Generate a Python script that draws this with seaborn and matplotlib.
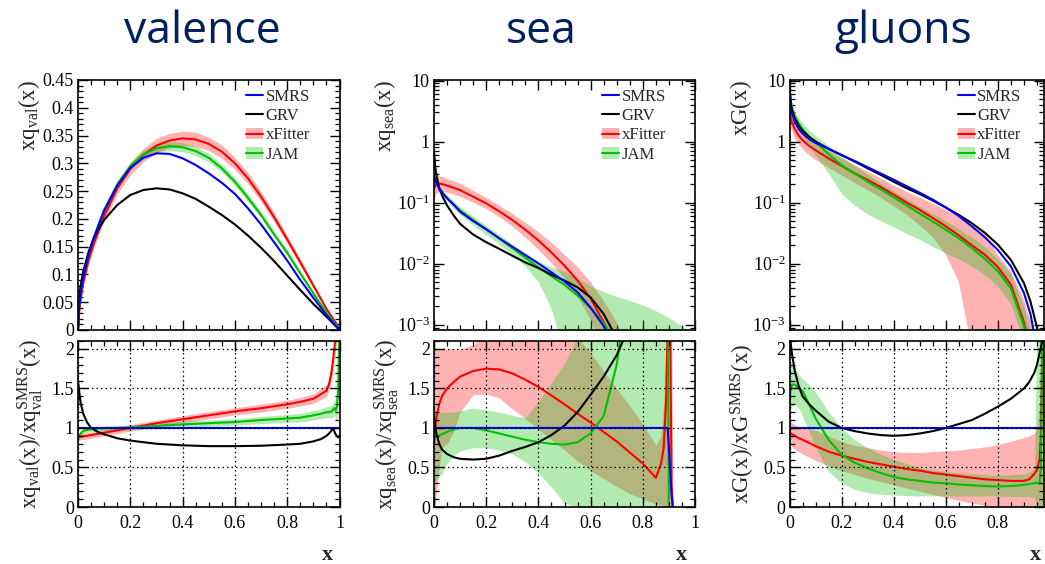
import matplotlib
matplotlib.use("Agg")
import matplotlib.pyplot as plt
import seaborn as sns
from matplotlib.lines import Line2D
from matplotlib.patches import Patch
from matplotlib.ticker import (MultipleLocator, FixedLocator, FixedFormatter,
                               LogLocator, NullFormatter, FormatStrFormatter)

# ---------------------------------------------------------------- data
LABELS = ["SMRS", "GRV", "xFitter", "JAM"]
TITLES = ["valence", "sea", "gluons"]

# ---- valence, top panel
VAL_X = [0, 0.005, 0.01, 0.02, 0.04, 0.06, 0.08, 0.1, 0.15, 0.2, 0.25, 0.3, 0.35,
         0.4, 0.45, 0.5, 0.55, 0.6, 0.65, 0.7, 0.75, 0.8, 0.85, 0.9, 0.95, 1.0]
VAL_SMRS = [0, 0.045, 0.065, 0.095, 0.135, 0.165, 0.19, 0.215, 0.26, 0.292, 0.310, 0.318,
            0.317, 0.309, 0.297, 0.282, 0.265, 0.245, 0.219, 0.19, 0.158, 0.125, 0.09,
            0.058, 0.027, 0.0]
VAL_GRV = [0, 0.06, 0.08, 0.105, 0.14, 0.165, 0.183, 0.198, 0.225, 0.243, 0.252, 0.255,
           0.253, 0.246, 0.236, 0.222, 0.207, 0.19, 0.17, 0.148, 0.124, 0.098, 0.072,
           0.047, 0.024, 0.0]
VAL_XF = [0, 0.035, 0.055, 0.085, 0.125, 0.155, 0.18, 0.205, 0.255, 0.29, 0.315, 0.332,
          0.341, 0.345, 0.343, 0.335, 0.321, 0.300, 0.273, 0.240, 0.203, 0.163, 0.122,
          0.080, 0.038, 0.003]
VAL_XF_LO = [0, 0.031, 0.05, 0.079, 0.118, 0.147, 0.172, 0.196, 0.245, 0.279, 0.303,
             0.319, 0.328, 0.332, 0.330, 0.323, 0.309, 0.289, 0.263, 0.231, 0.195,
             0.156, 0.116, 0.076, 0.036, 0.002]
VAL_XF_HI = [0, 0.039, 0.06, 0.091, 0.132, 0.163, 0.188, 0.214, 0.265, 0.301, 0.327,
             0.345, 0.354, 0.358, 0.356, 0.347, 0.333, 0.311, 0.283, 0.249, 0.211,
             0.170, 0.128, 0.084, 0.040, 0.004]
VAL_JAM = [0, 0.045, 0.065, 0.095, 0.135, 0.166, 0.192, 0.216, 0.262, 0.295, 0.316,
           0.327, 0.331, 0.329, 0.322, 0.310, 0.291, 0.267, 0.238, 0.207, 0.172, 0.139,
           0.102, 0.066, 0.031, 0.002]
VAL_JAM_LO = [0, 0.041, 0.06, 0.089, 0.128, 0.159, 0.185, 0.209, 0.255, 0.287, 0.308,
              0.319, 0.323, 0.321, 0.314, 0.302, 0.284, 0.260, 0.231, 0.201, 0.167,
              0.134, 0.098, 0.063, 0.029, 0.001]
VAL_JAM_HI = [0, 0.049, 0.07, 0.101, 0.142, 0.173, 0.199, 0.223, 0.269, 0.303, 0.324,
              0.335, 0.339, 0.337, 0.330, 0.318, 0.298, 0.274, 0.245, 0.213, 0.177,
              0.144, 0.106, 0.069, 0.033, 0.003]

# ---- valence, ratio panel
VR_X = [0, 0.005, 0.01, 0.02, 0.035, 0.05, 0.075, 0.1, 0.15, 0.2, 0.3, 0.4, 0.5, 0.6,
        0.7, 0.8, 0.85, 0.9, 0.93, 0.95, 0.96, 0.97, 0.975, 0.98, 0.985, 0.99, 0.995, 1.0]
VR_SMRS_X = [0, 1.0]
VR_SMRS = [1.0, 1.0]
VR_GRV = [1.6, 1.45, 1.32, 1.18, 1.07, 1.0, 0.95, 0.92, 0.87, 0.84, 0.80, 0.78, 0.77,
          0.77, 0.775, 0.79, 0.8, 0.83, 0.86, 0.9, 0.93, 0.97, 1.0, 0.96, 0.92, 0.9,
          0.88, 0.9]
VR_XF = [0.88, 0.885, 0.89, 0.895, 0.90, 0.91, 0.925, 0.94, 0.97, 1.0, 1.06, 1.11, 1.16,
         1.21, 1.25, 1.30, 1.33, 1.37, 1.43, 1.47, 1.55, 1.72, 1.85, 2.0, 2.15, 2.3,
         2.4, 2.5]
VR_XF_LO = [0.84, 0.845, 0.85, 0.855, 0.86, 0.87, 0.885, 0.90, 0.93, 0.96, 1.02, 1.065,
            1.115, 1.165, 1.2, 1.25, 1.275, 1.31, 1.36, 1.40, 1.47, 1.62, 1.72, 1.85,
            2.0, 2.1, 2.2, 2.3]
VR_XF_HI = [0.92, 0.925, 0.93, 0.935, 0.94, 0.95, 0.965, 0.98, 1.01, 1.04, 1.1, 1.155,
            1.205, 1.255, 1.3, 1.35, 1.385, 1.43, 1.50, 1.55, 1.63, 1.82, 1.95, 2.12,
            2.25, 2.4, 2.5, 2.6]
VR_JAM = [0.85, 0.9, 0.93, 0.96, 0.975, 0.985, 0.99, 0.995, 1.0, 1.006, 1.025, 1.045,
          1.06, 1.075, 1.10, 1.12, 1.13, 1.16, 1.18, 1.2, 1.2, 1.21, 1.23, 1.25, 1.22,
          1.27, 1.5, 2.3]
VR_JAM_LO = [0.8, 0.86, 0.895, 0.93, 0.945, 0.955, 0.96, 0.965, 0.97, 0.975, 0.99, 1.005,
             1.02, 1.035, 1.055, 1.07, 1.075, 1.1, 1.12, 1.13, 1.13, 1.13, 1.14, 1.16,
             1.12, 1.1, 1.2, 1.9]
VR_JAM_HI = [0.9, 0.94, 0.965, 0.99, 1.005, 1.015, 1.02, 1.025, 1.03, 1.04, 1.06, 1.085,
             1.1, 1.115, 1.145, 1.17, 1.185, 1.22, 1.24, 1.27, 1.27, 1.29, 1.32, 1.35,
             1.33, 1.45, 1.8, 2.5]

# ---- sea, top panel (log)
SEA_X = [0, 0.005, 0.01, 0.02, 0.035, 0.05, 0.075, 0.1, 0.15, 0.2, 0.25, 0.3, 0.35, 0.4,
         0.45, 0.5, 0.55, 0.6, 0.65, 0.7, 0.75, 0.8, 0.85, 0.9, 0.95, 1.0]
SEA_SMRS = [0.27, 0.23, 0.205, 0.17, 0.14, 0.118, 0.093, 0.071, 0.05, 0.0365, 0.026,
            0.019, 0.0138, 0.0101, 0.0072, 0.0051, 0.0034, 0.0019, 0.00095, 0.0004,
            1.5e-4, 5e-5, 1.2e-5, 2e-6, 1e-7, 1e-9]
SEA_GRV = [0.7, 0.38, 0.27, 0.17, 0.12, 0.09, 0.062, 0.045, 0.03, 0.0225, 0.0175,
           0.0135, 0.0105, 0.0085, 0.0066, 0.0053, 0.0041, 0.0028, 0.0015, 0.0006,
           2e-4, 5e-5, 1e-5, 1e-6, 1e-7, 1e-9]
SEA_XF = [0.17, 0.19, 0.2, 0.205, 0.2, 0.19, 0.175, 0.16, 0.125, 0.097, 0.072, 0.052,
          0.036, 0.024, 0.0152, 0.0093, 0.0053, 0.0027, 0.0011, 0.0004, 1e-4, 2e-5,
          3e-6, 1e-7, 1e-8, 1e-9]
SEA_XF_LO = [0.085, 0.12, 0.14, 0.15, 0.15, 0.145, 0.135, 0.125, 0.1, 0.079, 0.058,
             0.041, 0.027, 0.017, 0.0102, 0.0058, 0.003, 0.0012, 0.0004, 1e-4, 2e-5,
             3e-6, 3e-7, 1e-8, 1e-9, 1e-10]
SEA_XF_HI = [0.33, 0.3, 0.28, 0.27, 0.26, 0.245, 0.225, 0.205, 0.158, 0.12, 0.09,
             0.066, 0.047, 0.033, 0.022, 0.014, 0.0088, 0.005, 0.0025, 0.0011, 4e-4,
             1e-4, 2e-5, 1e-6, 1e-7, 1e-8]
SEA_JAM = [0.3, 0.24, 0.21, 0.175, 0.14, 0.12, 0.094, 0.075, 0.052, 0.037, 0.026,
           0.018, 0.0125, 0.0087, 0.0062, 0.0045, 0.003, 0.0019, 0.00105, 0.0005, 2e-4,
           6e-5, 1e-5, 1e-6, 1e-7, 1e-9]
SEA_JAM_LO = [0.28, 0.22, 0.19, 0.155, 0.125, 0.105, 0.08, 0.064, 0.043, 0.03, 0.021,
              0.014, 0.009, 0.005, 0.0018, 0.0003, 5e-5, 1e-5, 1e-6, 1e-7, 1e-8, 1e-9,
              1e-9, 1e-9, 1e-9, 1e-9]
SEA_JAM_HI = [0.32, 0.26, 0.23, 0.195, 0.155, 0.13, 0.105, 0.085, 0.06, 0.042, 0.03,
              0.021, 0.015, 0.011, 0.0088, 0.0075, 0.0058, 0.0043, 0.0035, 0.0029,
              0.0025, 0.0021, 0.0017, 0.0013, 0.00095, 0.0007]

# ---- sea, ratio panel
SR_X = [0, 0.005, 0.01, 0.02, 0.03, 0.05, 0.075, 0.1, 0.15, 0.2, 0.25, 0.3, 0.35, 0.4,
        0.45, 0.5, 0.55, 0.6, 0.65, 0.7, 0.75, 0.8, 0.85, 0.87, 0.88, 0.89, 0.895, 0.9,
        0.905, 0.91, 0.915, 0.92]
SR_SMRS_X = [0, 0.895, 0.9, 0.905, 0.91, 0.915]
SR_SMRS = [1.0, 1.0, 0.75, 0.45, 0.15, 0.0]
SR_GRV = [1.15, 1.0, 0.92, 0.8, 0.73, 0.67, 0.63, 0.61, 0.6, 0.61, 0.65, 0.71, 0.76,
          0.82, 0.91, 1.03, 1.2, 1.42, 1.65, 1.92, 2.3, 2.8, 3.2, 3.4, 3.5, 3.6, 3.6,
          3.7, 3.7, 3.8, 3.8, 3.9]
SR_XF = [0.8, 1.0, 1.15, 1.3, 1.4, 1.5, 1.58, 1.65, 1.72, 1.75, 1.74, 1.69, 1.61, 1.52,
         1.41, 1.3, 1.18, 1.07, 0.95, 0.83, 0.69, 0.55, 0.37, 0.55, 0.75, 1.4, 2.3, 2.5,
         2.3, 0.3, 0.0, 0.0]
SR_XF_LO = [0.0, 0.05, 0.2, 0.5, 0.75, 0.8, 0.95, 1.2, 1.42, 1.43, 1.38, 1.24, 1.12,
            0.98, 0.85, 0.72, 0.58, 0.46, 0.36, 0.26, 0.17, 0.1, 0.04, 0.02, 0.0, 0.0,
            0.0, 0.0, 0.0, 0.0, 0.0, 0.0]
SR_XF_HI = [2.0, 2.0, 2.0, 2.0, 2.0, 2.0, 2.0, 2.0, 2.05, 2.2, 2.2, 2.2, 2.2, 2.2, 2.2,
            2.2, 2.15, 1.95, 1.72, 1.5, 1.28, 1.05, 0.78, 0.9, 1.3, 2.2, 2.5, 2.5, 2.5,
            2.5, 0.0, 0.0]
SR_JAM = [1.2, 0.95, 0.9, 0.9, 0.92, 0.95, 0.98, 1.0, 1.0, 0.97, 0.93, 0.89, 0.85,
          0.82, 0.8, 0.79, 0.82, 0.93, 1.15, 1.8, 3.0, 3.0, 3.0, 3.0, 3.0, 3.0, 3.0, 0.0,
          0.0, 0.0, 0.0, 0.0]
SR_JAM_LO = [0.3, 0.33, 0.35, 0.38, 0.42, 0.55, 0.65, 0.71, 0.75, 0.75, 0.72, 0.67,
             0.57, 0.43, 0.25, 0.05, 0.0, 0.0, 0.0, 0.0, 0.0, 0.0, 0.0, 0.0, 0.0, 0.0,
             0.0, 0.0, 0.0, 0.0, 0.0, 0.0]
SR_JAM_HI = [1.25, 1.22, 1.2, 1.2, 1.2, 1.2, 1.2, 1.22, 1.25, 1.23, 1.2, 1.16, 1.13,
             1.33, 1.57, 1.82, 2.15, 2.5, 2.5, 2.5, 2.5, 2.5, 2.5, 2.5, 2.5, 2.5, 2.5,
             0.0, 0.0, 0.0, 0.0, 0.0]

# ---- gluons, top panel (log)
GL_X = [0, 0.005, 0.01, 0.02, 0.035, 0.05, 0.075, 0.1, 0.15, 0.2, 0.25, 0.3, 0.35, 0.4,
        0.45, 0.5, 0.55, 0.6, 0.65, 0.7, 0.75, 0.8, 0.85, 0.9, 0.925, 0.95, 0.975]
GL_SMRS = [5.5, 3.5, 2.8, 2.1, 1.6, 1.35, 1.1, 0.95, 0.76, 0.6, 0.48, 0.38, 0.3, 0.237,
           0.185, 0.145, 0.112, 0.083, 0.06, 0.041, 0.027, 0.0167, 0.009, 0.0033,
           0.0015, 0.0004, 1e-4]
GL_GRV = [8.0, 4.0, 3.2, 2.4, 1.8, 1.5, 1.2, 1.0, 0.76, 0.6, 0.47, 0.365, 0.285, 0.22,
          0.172, 0.138, 0.108, 0.083, 0.063, 0.046, 0.032, 0.0205, 0.0115, 0.0048,
          0.0024, 0.0009, 2e-4]
GL_XF = [3.3, 2.4, 2.0, 1.6, 1.25, 1.05, 0.85, 0.72, 0.53, 0.4, 0.3, 0.235, 0.18, 0.135,
         0.1, 0.076, 0.056, 0.041, 0.029, 0.02, 0.014, 0.0088, 0.0045, 0.0011, 4e-4,
         1e-4, 1e-5]
GL_XF_LO = [2.2, 1.7, 1.45, 1.15, 0.9, 0.75, 0.6, 0.5, 0.37, 0.28, 0.21, 0.16, 0.12,
            0.088, 0.063, 0.042, 0.027, 0.014, 0.005, 0.0004, 1e-5, 1e-6, 1e-7, 1e-8,
            1e-9, 1e-9, 1e-9]
GL_XF_HI = [4.5, 3.2, 2.7, 2.15, 1.7, 1.4, 1.12, 0.95, 0.7, 0.53, 0.41, 0.32, 0.25,
            0.19, 0.15, 0.12, 0.096, 0.076, 0.057, 0.042, 0.03, 0.0139, 0.0075, 0.0025,
            0.0012, 0.0004, 1e-4]
GL_JAM = [7.5, 4.5, 3.5, 2.6, 2.0, 1.6, 1.2, 1.0, 0.62, 0.41, 0.3, 0.22, 0.165, 0.122,
          0.09, 0.066, 0.049, 0.036, 0.026, 0.018, 0.012, 0.0075, 0.0039, 0.00095,
          4e-4, 1e-4, 1e-5]
GL_JAM_LO = [6.0, 3.7, 2.9, 2.1, 1.6, 1.25, 0.85, 0.6, 0.3, 0.14, 0.09, 0.065, 0.05,
             0.04, 0.031, 0.025, 0.019, 0.015, 0.012, 0.009, 0.0065, 0.0042, 0.0022,
             0.0005, 2e-4, 5e-5, 5e-6]
GL_JAM_HI = [9.0, 5.5, 4.2, 3.1, 2.4, 2.0, 1.55, 1.25, 0.85, 0.58, 0.4, 0.29, 0.21,
             0.155, 0.115, 0.086, 0.066, 0.05, 0.037, 0.027, 0.019, 0.012, 0.0068,
             0.002, 8e-4, 2e-4, 2e-5]

# ---- gluons, ratio panel
GR_X = [0, 0.005, 0.01, 0.02, 0.035, 0.05, 0.075, 0.1, 0.15, 0.2, 0.25, 0.3, 0.35, 0.4,
        0.45, 0.5, 0.55, 0.6, 0.65, 0.7, 0.75, 0.8, 0.85, 0.9, 0.92, 0.94, 0.95, 0.96,
        0.965, 0.97, 0.975]
GR_SMRS_X = [0, 0.975]
GR_SMRS = [1.0, 1.0]
GR_GRV = [2.2, 2.05, 1.92, 1.72, 1.53, 1.4, 1.3, 1.22, 1.08, 1.0, 0.96, 0.93, 0.91,
          0.9, 0.91, 0.93, 0.96, 1.0, 1.05, 1.1, 1.18, 1.27, 1.37, 1.5, 1.58, 1.7,
          1.8, 1.95, 2.02, 2.12, 2.3]
GR_XF = [0.95, 0.93, 0.92, 0.9, 0.87, 0.85, 0.81, 0.77, 0.7, 0.65, 0.61, 0.57, 0.54,
         0.51, 0.48, 0.46, 0.43, 0.41, 0.39, 0.37, 0.35, 0.34, 0.33, 0.33, 0.35, 0.42,
         0.47, 0.6, 0.9, 1.8, 2.3]
GR_XF_LO = [0.8, 0.78, 0.76, 0.73, 0.7, 0.67, 0.63, 0.59, 0.52, 0.46, 0.41, 0.36, 0.32,
            0.28, 0.24, 0.2, 0.16, 0.12, 0.08, 0.05, 0.02, 0.0, 0.0, 0.0, 0.0, 0.0, 0.0,
            0.0, 0.0, 0.0, 0.0]
GR_XF_HI = [1.1, 1.08, 1.06, 1.04, 1.02, 1.0, 0.99, 0.97, 0.9, 0.83, 0.78, 0.75, 0.72,
            0.7, 0.69, 0.69, 0.7, 0.71, 0.72, 0.74, 0.76, 0.79, 0.83, 0.88, 0.9, 0.93,
            1.0, 1.3, 2.0, 2.3, 2.3]
GR_JAM = [1.4, 1.5, 1.55, 1.55, 1.5, 1.47, 1.3, 1.12, 0.85, 0.66, 0.56, 0.49, 0.43,
          0.38, 0.35, 0.33, 0.31, 0.3, 0.285, 0.275, 0.265, 0.26, 0.265, 0.28, 0.29,
          0.3, 0.31, 0.29, 0.5, 2.3, 2.3]
GR_JAM_LO = [1.2, 1.25, 1.28, 1.3, 1.25, 1.15, 0.95, 0.75, 0.45, 0.3, 0.22, 0.18, 0.16,
             0.15, 0.145, 0.14, 0.14, 0.14, 0.14, 0.14, 0.14, 0.14, 0.135, 0.13, 0.13,
             0.12, 0.0, 0.0, 0.0, 0.0, 0.0]
GR_JAM_HI = [1.85, 1.83, 1.8, 1.75, 1.68, 1.62, 1.55, 1.45, 1.2, 1.0, 0.85, 0.75, 0.67,
             0.6, 0.55, 0.5, 0.47, 0.45, 0.43, 0.42, 0.41, 0.4, 0.41, 0.42, 0.44, 0.5,
             2.3, 2.3, 2.3, 2.3, 2.3]

# ---------------------------------------------------------------- style
sns.set_theme(style="white")
plt.rcParams["font.family"] = ["Liberation Serif", "DejaVu Serif"]
plt.rcParams["mathtext.fontset"] = "custom"
plt.rcParams["mathtext.rm"] = "Liberation Serif"
plt.rcParams["mathtext.it"] = "Liberation Serif:italic"
plt.rcParams["mathtext.bf"] = "Liberation Serif:bold"
plt.rcParams["axes.unicode_minus"] = True

BLUE, BLACK, RED, GREEN = "#0000ff", "#000000", "#ff0000", "#00c000"
BAND_ALPHA = 0.3
LW = 1.5
TICK_FS = 13
LEGEND_FS = 12
LABEL_FS = 16.5

W, H = 1045, 564
fig = plt.figure(figsize=(W / 100, H / 100), dpi=100)


def add_axes_px(left, top, right, bottom):
    return fig.add_axes([left / W, 1 - bottom / H, (right - left) / W, (bottom - top) / H])


def style_axes(ax, xmax):
    ax.set_xlim(0, xmax)
    for s in ax.spines.values():
        s.set_visible(True)
        s.set_color("black")
        s.set_linewidth(1.2)
    ax.set_facecolor("white")
    ax.tick_params(which="both", direction="in", top=True, right=True, bottom=True,
                   left=True, colors="black", labelsize=TICK_FS)
    ax.tick_params(which="major", length=7.5, width=1.0)
    ax.tick_params(which="minor", length=3.8, width=0.9)
    ax.tick_params(axis="x", pad=6)
    ax.tick_params(axis="y", pad=3)
    ax.xaxis.set_major_locator(MultipleLocator(0.2))
    ax.xaxis.set_minor_locator(MultipleLocator(0.05))
    ax.xaxis.set_major_formatter(FormatStrFormatter("%g"))


def set_log_y(ax):
    ax.set_yscale("log")
    ax.set_ylim(8.2e-4, 10.2)
    ax.yaxis.set_major_locator(FixedLocator([1e-3, 1e-2, 1e-1, 1, 10]))
    ax.yaxis.set_major_formatter(FixedFormatter(
        [r"$10^{-3}$", r"$10^{-2}$", r"$10^{-1}$", "1", "10"]))
    ax.yaxis.set_minor_locator(LogLocator(base=10, subs=[2, 3, 4, 5, 6, 7, 8, 9]))
    ax.yaxis.set_minor_formatter(NullFormatter())


def set_ratio_y(ax):
    ax.set_ylim(0, 2.1)
    ax.yaxis.set_major_locator(MultipleLocator(0.5))
    ax.yaxis.set_minor_locator(MultipleLocator(0.1))
    ax.yaxis.set_major_formatter(FormatStrFormatter("%g"))
    ax.grid(True, which="major", color="black", lw=0.9, ls=(0, (1.2, 2.4)))
    ax.set_axisbelow(False)


def draw(ax, x, smrs_x, smrs, grv, xf, xf_lo, xf_hi, jam, jam_lo, jam_hi):
    ax.fill_between(x, xf_lo, xf_hi, color=RED, alpha=BAND_ALPHA, lw=0)
    ax.fill_between(x, jam_lo, jam_hi, color=GREEN, alpha=BAND_ALPHA, lw=0)
    kw = dict(ax=ax, lw=LW, estimator=None, sort=False, legend=False)
    sns.lineplot(x=x, y=xf, color=RED, **kw)
    sns.lineplot(x=x, y=jam, color=GREEN, **kw)
    sns.lineplot(x=x, y=grv, color=BLACK, **kw)
    sns.lineplot(x=smrs_x, y=smrs, color=BLUE, **kw)


def add_legend(ax, xanchor):
    hs = [Line2D([], [], color=BLUE, lw=LW),
          Line2D([], [], color=BLACK, lw=LW),
          (Patch(facecolor=RED, alpha=BAND_ALPHA, edgecolor="none"),
           Line2D([], [], color=RED, lw=LW)),
          (Patch(facecolor=GREEN, alpha=BAND_ALPHA, edgecolor="none"),
           Line2D([], [], color=GREEN, lw=LW))]
    ax.legend(hs, LABELS, loc="upper right", bbox_to_anchor=(xanchor, 0.965),
              frameon=False, fontsize=LEGEND_FS, handlelength=1.0, handletextpad=0.15,
              labelspacing=0.2, borderaxespad=0, borderpad=0)


# column geometry in pixels: (left, right, xmax)
COLS = [(78, 339.5, 1.0), (434, 695, 1.0), (789.6, 1043.5, 0.975)]
TOP = (80, 330)
BOT = (341, 507)
TITLE_X = [202, 541, 903]
XLABEL_X = [327, 681, 1035]

top_labels = [r"$\mathrm{xq_{val}(x)}$", r"$\mathrm{xq_{sea}(x)}$", r"$\mathrm{xG(x)}$"]
ratio_labels = [r"$\mathrm{xq_{val}(x)/xq_{val}^{SMRS}(x)}$",
                r"$\mathrm{xq_{sea}(x)/xq_{sea}^{SMRS}(x)}$",
                r"$\mathrm{xG(x)/xG^{SMRS}(x)}$"]

top_data = [
    (VAL_X, VAL_X, VAL_SMRS, VAL_GRV, VAL_XF, VAL_XF_LO, VAL_XF_HI, VAL_JAM, VAL_JAM_LO, VAL_JAM_HI),
    (SEA_X, SEA_X, SEA_SMRS, SEA_GRV, SEA_XF, SEA_XF_LO, SEA_XF_HI, SEA_JAM, SEA_JAM_LO, SEA_JAM_HI),
    (GL_X, GL_X, GL_SMRS, GL_GRV, GL_XF, GL_XF_LO, GL_XF_HI, GL_JAM, GL_JAM_LO, GL_JAM_HI),
]
ratio_data = [
    (VR_X, VR_SMRS_X, VR_SMRS, VR_GRV, VR_XF, VR_XF_LO, VR_XF_HI, VR_JAM, VR_JAM_LO, VR_JAM_HI),
    (SR_X, SR_SMRS_X, SR_SMRS, SR_GRV, SR_XF, SR_XF_LO, SR_XF_HI, SR_JAM, SR_JAM_LO, SR_JAM_HI),
    (GR_X, GR_SMRS_X, GR_SMRS, GR_GRV, GR_XF, GR_XF_LO, GR_XF_HI, GR_JAM, GR_JAM_LO, GR_JAM_HI),
]

for i, (left, right, xmax) in enumerate(COLS):
    width = right - left
    full_right = left + 261.0
    # top panel
    axt = add_axes_px(left, TOP[0], right, TOP[1])
    draw(axt, *top_data[i])
    style_axes(axt, xmax)
    axt.tick_params(axis="x", labelbottom=False)
    if i == 0:
        axt.set_ylim(0, 0.45)
        axt.yaxis.set_major_locator(MultipleLocator(0.05))
        axt.yaxis.set_minor_locator(MultipleLocator(0.01))
        axt.yaxis.set_major_formatter(FormatStrFormatter("%g"))
    else:
        set_log_y(axt)
    axt.set_xlabel("")
    axt.set_ylabel(top_labels[i], fontsize=LABEL_FS, loc="top")
    axt.yaxis.set_label_coords(-36.0 / width, 1.0)
    add_legend(axt, (full_right - 29 - left) / width)

    # ratio panel
    axr = add_axes_px(left, BOT[0], right, BOT[1])
    draw(axr, *ratio_data[i])
    style_axes(axr, xmax)
    set_ratio_y(axr)
    axr.set_xlabel("")
    axr.set_ylabel(ratio_labels[i], fontsize=LABEL_FS, loc="center")
    axr.yaxis.set_label_coords(-33.0 / width, 0.5)

    fig.text(TITLE_X[i] / W, 1 - 43 / H, TITLES[i], ha="center", va="baseline",
             fontsize=32, color="#002060", family="Open Sans")
    fig.text(XLABEL_X[i] / W, 1 - 555 / H, "x", ha="center", va="center",
             fontsize=16, fontweight="bold")

fig.savefig("out.png", dpi=100, facecolor="white")
